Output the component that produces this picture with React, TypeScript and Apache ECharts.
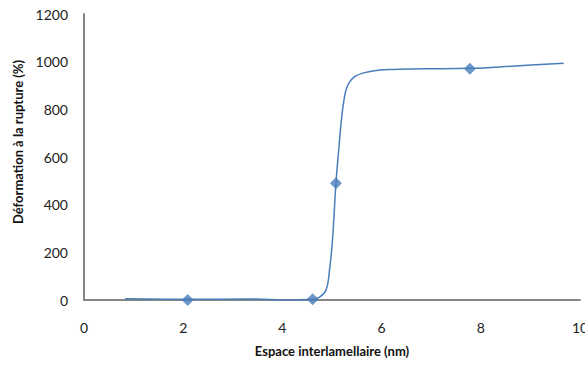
import React, { useEffect, useRef } from "react";
import * as echarts from "echarts";

// Smoothed curve, points
const curveX = [0.83, 2.09, 3.3, 4.2, 4.61, 4.75, 4.88, 4.95, 5.01, 5.08, 5.14, 5.2, 5.25, 5.3, 5.38, 5.48, 5.62, 5.82, 6.13, 6.8, 7.78, 8.7, 9.67];
const curveY = [5, 3, 4, 1, 3, 12, 42, 126, 252, 490, 640, 776, 850, 893, 922, 940, 952, 961, 967, 970, 972, 982, 993];

// Diamond markers
const markerX = [2.09, 4.61, 5.08, 7.78];
const markerY = [0, 3, 490, 970];

const xTicks = [0, 2, 4, 6, 8, 10];
const yTicks = [0, 200, 400, 600, 800, 1000, 1200];

const xTitle = "Espace interlamellaire (nm)";
const yTitle = "Déformation à la rupture (%)";

const BLUE = "#4a7ebb";
const AXIS = "#868686";
const FONT = "Lato";

export default function App() {
  const ref = useRef<HTMLDivElement>(null);
  useEffect(() => {
    if (!ref.current) return;
    const chart = echarts.init(ref.current, undefined, { renderer: "svg" });
    chart.setOption({
      animation: false,
      backgroundColor: "#ffffff",
      grid: { left: 84, right: 5, top: 14, bottom: 65, outerBoundsMode: "none", containLabel: false },
      xAxis: {
        type: "value",
        min: xTicks[0],
        max: xTicks[xTicks.length - 1],
        interval: 2,
        name: xTitle,
        nameLocation: "middle",
        nameGap: 44,
        nameTextStyle: { fontFamily: FONT, fontSize: 13, fontWeight: "bold", color: "#111" },
        axisLine: { show: true, lineStyle: { color: AXIS, width: 2 } },
        axisTick: { show: false },
        splitLine: { show: false },
        axisLabel: {
          margin: 20, fontFamily: FONT, fontSize: 14, color: "#222",
          alignMinLabel: "center", alignMaxLabel: "center",
          formatter: (v: number) => String(v),
        },
      },
      yAxis: {
        type: "value",
        min: yTicks[0],
        max: yTicks[yTicks.length - 1],
        interval: 200,
        name: yTitle,
        nameLocation: "middle",
        nameGap: 49,
        nameTextStyle: { fontFamily: FONT, fontSize: 13, fontWeight: "bold", color: "#111", padding: [0, 0, 0, 30] },
        axisLine: { show: true, lineStyle: { color: AXIS, width: 2 } },
        axisTick: { show: false },
        splitLine: { show: false },
        axisLabel: { margin: 16, fontFamily: FONT, fontSize: 14, color: "#222", formatter: (v: number) => String(v) },
      },
      series: [
        {
          type: "line",
          data: curveX.map((x, i) => [x, curveY[i]]),
          smooth: 0.4,
          showSymbol: false,
          symbol: "none",
          lineStyle: { color: BLUE, width: 1.5 },
          z: 2,
        },
        {
          type: "scatter",
          data: markerX.map((x, i) => [x, markerY[i]]),
          symbol: "diamond",
          symbolSize: 12,
          itemStyle: { color: BLUE },
          z: 3,
        },
      ],
    });
    return () => chart.dispose();
  }, []);
  return <div ref={ref} style={{ width: 585, height: 365, position: "absolute", left: 0, top: 0 }} />;
}
